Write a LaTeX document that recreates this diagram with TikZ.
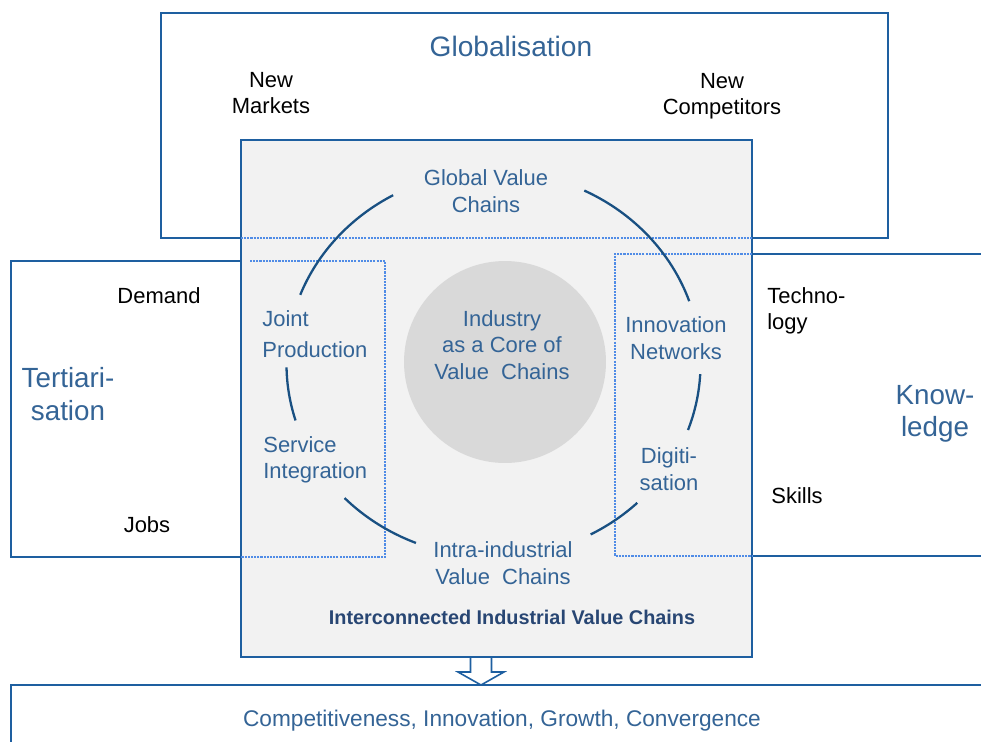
\documentclass[tikz,border=0pt]{standalone}
\usepackage{fontspec}
\setmainfont{Liberation Sans}
\definecolor{frameblue}{RGB}{30,95,160}
\definecolor{hintblue}{RGB}{80,140,230}
\definecolor{ringblue}{RGB}{25,80,130}
\definecolor{txtblue}{RGB}{52,100,150}
\definecolor{boldblue}{RGB}{40,70,115}
\definecolor{panel}{RGB}{242,242,242}
\definecolor{core}{RGB}{217,217,217}

\begin{document}
\begin{tikzpicture}
  [x=0.02cm,y=-0.02cm,
    every node/.style={inner sep=0pt,align=center},
    frame/.style={draw=frameblue,line width=1.1pt},
    hint/.style={draw=hintblue,line width=0.6pt,dash pattern=on 1.2pt off 0.6pt},
    ring/.style={draw=ringblue,line width=1.3pt},
    lbl/.style={text=txtblue,font=\fontsize{12.5}{15}\selectfont},
    aux/.style={text=black,font=\fontsize{12.5}{14.8}\selectfont},
    big/.style={text=txtblue,font=\fontsize{15.8}{18.3}\selectfont},
  ]
  \clip (0,0) rectangle (981,741);
  \fill[white] (0,0) rectangle (981,741);
  \draw[frame] (161,13) rectangle (888,238);
  \draw[frame] (11,261) rectangle (241,557);
  \draw[frame] (1000,254) -| (752,556) -- (1000,556);
  \draw[frame] (1000,685) -| (11,760);
  \draw[frame,fill=panel] (241,140) rectangle (752,657);
  \draw[hint] (241,238) -- (752,238);
  \draw[hint] (250,261) -| (385,557) -- (241,557);
  \draw[hint] (752,254) -| (615,556) -- (752,556);
  \node[circle,fill=core,minimum size=4.04cm] (hub) at (505,362) {};
  \coordinate (ring) at (493.5,364);
  \foreach \a/\b in {119/159,181/197,224/248,298/314,340/357,19/64}
    \draw[ring] (ring) ++(-\a:207 and 193) arc[start angle=-\a,end angle=-\b,x radius=207,y radius=193];

  \node[big,font=\fontsize{16}{19}\selectfont] (glob) at (511,46) {Globalisation};
  \node[aux] (mark) at (271,93) {New\\Markets};
  \node[aux] (comp) at (722,96) {New\\Competitors};
  \node[big] (tert) at (68,394) {Tertiari-\\sation};
  \node[aux] (dem) at (159,296) {Demand};
  \node[aux] (jobs) at (147,525) {Jobs};
  \node[big] (know) at (935,414) {Know-\\ledge};
  \node[aux,anchor=west,align=left] (tech) at (767,311) {Techno-\\logy};
  \node[aux] (skill) at (797,496) {Skills};

  \node[lbl] (gvc) at (486,191) {Global Value\\Chains};
  \node[lbl,anchor=west,align=left,font=\fontsize{12.5}{17.6}\selectfont] (joint) at (262,334) {Joint\\Production};
  \node[lbl,anchor=west,align=left] (serv) at (263,460) {Service\\Integration};
  \node[lbl] (ind) at (502,345) {Industry\\as a Core of\\Value\ \ Chains};
  \node[lbl] (inno) at (676,338) {Innovation\\Networks};
  \node[lbl] (digi) at (669,469) {Digiti-\\sation};
  \node[lbl] (intra) at (503,563) {Intra-industrial\\Value\ \ Chains};
  \node[text=boldblue,font=\fontsize{11.3}{13}\selectfont\bfseries] (ivc) at (512,617) {Interconnected Industrial Value Chains};
  \node[lbl,font=\fontsize{12.9}{15}\selectfont] (res) at (502,721) {Competitiveness, Innovation, Growth, Convergence};

  \coordinate (tip) at (481,685);
  \draw[frame,line width=0.9pt,fill=white] (tip) -- ++(-23,-13) -- ++(12.5,0) -- ++(0,-15)
    -- ++(21,0) -- ++(0,15) -- ++(12.5,0) -- cycle;
\end{tikzpicture}
\end{document}
